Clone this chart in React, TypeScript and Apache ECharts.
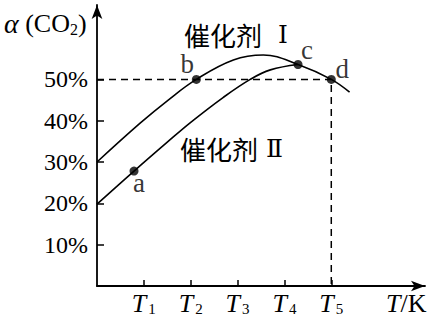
import React, { useEffect, useRef } from "react";
import * as echarts from "echarts";

// Temperature axis ticks (T1..T5) and conversion axis ticks (%)
const xTickValues = [1, 2, 3, 4, 5];
const xTickSubs = ["1", "2", "3", "4", "5"];
const yTickValues = [10, 20, 30, 40, 50];

// Curve for 催化剂 I  [T position, α(CO2) %]
const catalyst1: [number, number][] = [
  [0, 30], [0.92, 39.4], [1.52, 45], [2.12, 50], [2.91, 54.7],
  [3.55, 55.9], [4.29, 53.6], [5, 50], [5.39, 46.9],
];
// Curve for 催化剂 II
const catalyst2: [number, number][] = [
  [0, 19.8], [0.79, 27.8], [1.5, 34.8], [2.0, 39.6], [2.69, 45.6],
  [3.27, 50], [3.7, 52.3], [4.29, 53.6],
];
// Marked points
const pointNames = ["a", "b", "c", "d"];
const pointValues: [number, number][] = [[0.79, 27.8], [2.12, 50], [4.29, 53.6], [5, 50]];
// Dashed guide through d
const guideLine: [number, number][] = [[0, 50], [5, 50], [5, 0]];

const serif = "'Liberation Serif', 'Times New Roman', serif";
const cjk = "'Noto Sans CJK SC', sans-serif";

const labelOffsets: Record<string, [number, number]> = {
  a: [5, 12],
  b: [-9, -15],
  c: [9, -15],
  d: [11, -10],
};

export default function App() {
  const ref = useRef<HTMLDivElement>(null);
  useEffect(() => {
    if (!ref.current) return;
    const chart = echarts.init(ref.current, undefined, { renderer: "svg" });
    chart.setOption({
      animation: false,
      backgroundColor: "#fff",
      grid: { left: 97, top: 5, width: 328, height: 281 },
      xAxis: {
        type: "value",
        min: 0,
        max: 7,
        splitLine: { show: false },
        axisLine: {
          onZero: false,
          lineStyle: { color: "#000", width: 1.8 },
          symbol: ["none", "arrow"],
          symbolSize: [8, 14],
        },
        axisTick: {
          inside: true,
          length: 6,
          customValues: xTickValues,
          lineStyle: { color: "#000", width: 1.5 },
        },
        axisLabel: {
          customValues: xTickValues,
          margin: 4,
          formatter: (v: number) => `{t|T}{s|${xTickSubs[xTickValues.indexOf(v)] ?? v}}`,
          rich: {
            t: { fontFamily: serif, fontStyle: "italic", fontSize: 26, color: "#000" },
            s: { fontFamily: serif, fontSize: 15, color: "#000", verticalAlign: "bottom", padding: [10, 0, 0, 2] },
          },
        },
      },
      yAxis: {
        type: "value",
        min: 0,
        max: 68,
        splitLine: { show: false },
        axisLine: {
          onZero: false,
          lineStyle: { color: "#000", width: 1.8 },
          symbol: ["none", "arrow"],
          symbolSize: [8, 14],
        },
        axisTick: {
          inside: true,
          length: 7,
          customValues: yTickValues,
          lineStyle: { color: "#000", width: 1.5 },
        },
        axisLabel: {
          customValues: yTickValues,
          margin: 9,
          formatter: "{value}%",
          fontFamily: serif,
          fontSize: 24,
          color: "#000",
        },
      },
      graphic: [
        {
          type: "text",
          left: 4,
          top: 9,
          style: {
            text: "{a|α}{sp| }{n|(CO}{s|2}{n|)}",
            rich: {
              a: { fontFamily: serif, fontStyle: "italic", fontSize: 28, fill: "#000" },
              sp: { fontFamily: serif, fontSize: 26, fill: "#000" },
              n: { fontFamily: serif, fontSize: 26, fill: "#000" },
              s: { fontFamily: serif, fontSize: 16, fill: "#000", verticalAlign: "bottom", padding: [8, 0, 0, 0] },
            },
          },
        },
        {
          type: "text",
          left: 386,
          top: 290,
          style: {
            text: "{t|T}{n|/K}",
            rich: {
              t: { fontFamily: serif, fontStyle: "italic", fontSize: 26, fill: "#000" },
              n: { fontFamily: serif, fontSize: 26, fill: "#000" },
            },
          },
        },
        {
          type: "text",
          x: 184,
          y: 34,
          style: {
            text: "{c|催化剂}{r|  Ⅰ}",
            verticalAlign: "middle",
            rich: {
              c: { fontFamily: cjk, fontSize: 26, lineHeight: 24, fill: "#000" },
              r: { fontFamily: "'DejaVu Serif', " + serif, fontSize: 25, lineHeight: 24, fill: "#000" },
            },
          },
        },
        {
          type: "text",
          x: 180,
          y: 148,
          style: {
            text: "{c|催化剂}{r| Ⅱ}",
            verticalAlign: "middle",
            rich: {
              c: { fontFamily: cjk, fontSize: 26, lineHeight: 24, fill: "#000" },
              r: { fontFamily: "'DejaVu Serif', " + serif, fontSize: 25, lineHeight: 24, fill: "#000" },
            },
          },
        },
      ],
      series: [
        {
          type: "line",
          data: guideLine,
          symbol: "none",
          lineStyle: { color: "#000", width: 1.5, type: [7, 5] },
          z: 1,
        },
        {
          type: "line",
          data: catalyst1,
          smooth: 0.4,
          symbol: "none",
          lineStyle: { color: "#000", width: 1.6 },
          z: 2,
        },
        {
          type: "line",
          data: catalyst2,
          smooth: 0.4,
          symbol: "none",
          lineStyle: { color: "#000", width: 1.6 },
          z: 2,
        },
        {
          type: "scatter",
          symbolSize: 9,
          itemStyle: { color: "#000" },
          z: 3,
          data: pointNames.map((n, i) => ({
            name: n,
            value: pointValues[i],
            label: {
              show: true,
              formatter: "{b}",
              position: "inside",
              offset: labelOffsets[n],
              fontFamily: serif,
              fontSize: 27,
              lineHeight: 20,
              color: "#000",
            },
          })),
        },
      ],
    });
    return () => chart.dispose();
  }, []);
  return (
    <div
      ref={ref}
      style={{ position: "absolute", left: 0, top: 0, width: 434, height: 322, background: "#fff" }}
    />
  );
}
